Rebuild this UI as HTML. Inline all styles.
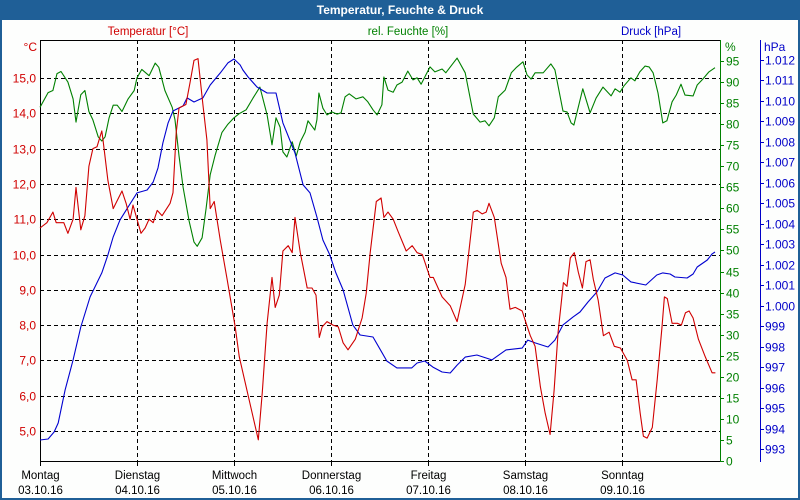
<!DOCTYPE html>
<html><head><meta charset="utf-8"><style>
html,body{margin:0;padding:0;background:#fff}
svg{display:block;font-family:"Liberation Sans",Tahoma,sans-serif}
</style></head><body>
<svg id="c" width="800" height="500" viewBox="0 0 800 500">
<rect x="0" y="0" width="800" height="500" fill="#1f5f97"/>
<rect x="2" y="20" width="796" height="478" fill="#fdfefd"/>
<text x="400" y="14" text-anchor="middle" fill="#fff" font-size="12" font-weight="bold">Temperatur, Feuchte &amp; Druck</text>
<text x="148" y="35" text-anchor="middle" fill="#d00000" font-size="11.5">Temperatur [°C]</text>
<text x="408" y="35" text-anchor="middle" fill="#008000" font-size="11.5">rel. Feuchte [%]</text>
<text x="651" y="35" text-anchor="middle" fill="#0000c8" font-size="11.5">Druck [hPa]</text>
<text x="37" y="51" text-anchor="end" fill="#d00000" font-size="12">°C</text>
<text x="725" y="51" fill="#008000" font-size="12">%</text>
<text x="764" y="51" fill="#0000c8" font-size="12">hPa</text>
<g id="grid"></g><g id="axes"></g><g id="series"></g>
</svg>
<script>
const tempHours=[0,1.7,3.2,4,5.9,6.9,8.2,8.9,10.1,11.1,12.1,13.1,14.1,15.3,15.6,16.8,18.1,20.3,21.3,22.3,23,25,26,27,28,29,30.2,32.2,32.9,33.7,34.4,36.1,37.1,38.1,39.1,40.3,41.3,42.1,43.1,44.6,46.3,48.3,49.3,54,55,56.2,57.4,58.2,59.2,60.1,61.4,62.4,63.1,64.4,65.1,66.1,67.3,68.3,69.1,69.8,71,72.5,73.8,75,76.2,78,79.7,80.7,81.7,83.2,84.4,85.1,86.1,87.4,88.6,90.6,92.1,93.3,94.6,96.5,97.3,99.5,101.5,103.2,105.2,107.2,108.2,109.4,110.4,111.1,112.4,114.1,115.3,116.3,117.6,119.3,120,121.3,122.5,123.8,125,126.2,127.2,128.2,129.5,130.4,131.2,132.2,133.2,134.2,135.1,136.1,136.9,138.1,139.4,140.8,142.1,143.6,145.3,146.5,147.5,148.5,149.3,150.2,151.5,152.7,153.9,154.5,155.2,156.4,157.7,158.7,159.7,160.6,161.6,162.9,164.6,166.3,167.1];
const tempValues=[10.75,10.9,11.2,10.9,10.9,10.6,11,11.9,10.7,11.1,12.5,13,13.05,13.5,13.25,12.1,11.3,11.8,11.45,11,11.4,10.6,10.75,11,10.9,11.25,11.1,11.45,11.75,13.45,14.15,14.25,14.85,15.5,15.55,14.25,13.25,11.3,11.5,10.4,9.3,7.95,7.1,4.75,6.1,8.05,9.35,8.5,8.85,10.1,10.25,10.05,11.05,10.05,9.65,9.05,9.05,8.85,7.65,7.95,8.1,8,7.95,7.5,7.3,7.6,8.2,8.9,10.05,11.5,11.6,11.05,11.2,11,10.65,10.1,10.25,10.05,10,9.35,9.35,8.8,8.55,8.1,9.15,11.2,11.25,11.15,11.2,11.45,11.05,9.75,9.35,8.45,8.5,8.4,8.15,7.7,7.4,6.25,5.5,4.9,6.15,7.8,9.2,9.1,9.9,10.05,9.5,9.05,9.8,9.85,9.3,8.7,7.7,7.8,7.4,7.35,7,6.45,6.45,5.5,4.85,4.8,5.1,6.45,7.95,8.8,8.75,8.05,8.05,8,8.35,8.4,8.2,7.6,7.1,6.65,6.65];
const humHours=[0,2,3.2,4.2,5.2,6.9,8.2,8.9,10.1,11.1,12.1,13.1,14.4,15.3,16.1,17.1,18.1,19.1,20.3,21.8,23.3,24,25.2,27,28.5,29.4,30.9,32.7,33.4,34.4,35.4,36.9,38.1,38.9,40.1,41.1,42.1,43.3,45,46.5,48,49.3,51,52.7,54.4,56.2,57.4,58.4,59.4,60.1,61.1,62.4,63.4,64.4,65.6,66.3,68,68.5,69,70,71,72.2,73.5,74.5,75.5,76.5,78.2,79.9,81.1,82.4,83.4,84.6,85.1,86.1,87.4,88.3,89.6,91,92.3,93.3,94.3,96.5,97.7,99.5,100.4,103.2,105.2,107.2,108.9,110.1,111.1,112.4,113.4,115.1,116.6,117.8,119.5,120.5,121.5,122.5,124.5,126.4,127.4,129.4,130.4,131.4,132.1,134.3,136.1,137.6,139.3,141.3,142.3,143.5,144.5,146.2,147.2,148.4,149.7,150.7,151.7,152.9,154.1,155.1,156.4,157.4,158.6,159.6,161.6,162.6,164,165.5,167];
const humValues=[84,87.5,88,92,92.5,90,86,80.5,87,88,83,81,77,76,77,81.5,84.5,84.5,83,86,88,91,93,91.5,94.5,93.5,88,84,81,72.5,65,57,52,51,53,60,68,72.5,78,80,81.5,82.5,83.4,86.2,88.8,82.2,75.1,81.5,79.3,73.4,72.2,75.8,72.4,75.8,78.1,80.8,78.6,81,87.4,83.8,82.2,82.9,82.4,82.7,86.5,87.2,86,86.5,85.3,83.4,82.2,84.6,91.2,88.1,87.6,89.3,90,92.6,90.5,91,89.5,93.6,92.4,93.1,92.2,95.7,92.2,82.4,80.5,80.8,79.6,81.5,86.5,88.1,92.2,93.4,94.8,91.7,90.7,92.2,92.2,94.3,92.9,83.1,82.9,80.3,79.8,88.4,82.7,86.2,88.8,86.7,88.4,87.6,89.1,91,90.3,92.4,93.8,93.6,92.2,87.4,80.3,80.8,85.3,86.9,89.5,86.9,86.7,89.3,90.7,92.4,93.4];
const pressHours=[0,2,3.5,4.5,6.2,8.2,10.1,12.4,15.3,16.8,18.1,19.8,21.8,24,26.5,28,29.2,30.4,31.7,32.9,35.4,36.4,38.1,40.3,42.1,44.6,46.5,48,49.5,50.2,51.5,53.7,56.2,58.4,60.1,63.1,65.1,66.8,68.5,70,71.7,73.2,75,77.4,79.2,82.4,85.8,88.3,92,93.3,95.2,97.2,99.5,101.5,103.2,105.2,108.1,111.8,115.3,119.3,120.7,122.5,125.7,127.4,129.4,131.9,133.6,135.6,137.8,139.8,142.3,144.2,146.2,149.9,152.6,154.1,155.9,157.1,160.1,161.6,162.6,165.1,166.3,167];
const pressValues=[993.44,993.49,993.83,994.27,995.88,997.35,998.96,1000.43,1001.6,1002.48,1003.36,1004.19,1004.82,1005.51,1005.65,1006.04,1006.73,1007.95,1008.93,1009.51,1009.76,1010.15,1009.95,1010.15,1010.78,1011.37,1011.86,1012.05,1011.76,1011.51,1011.17,1010.68,1010.39,1010.39,1008.93,1007.46,1005.9,1005.51,1004.33,1003.21,1002.48,1001.6,1000.77,999.06,998.57,998.47,997.3,996.96,996.96,997.2,997.3,997,996.76,996.71,997.1,997.49,997.59,997.35,997.84,997.93,998.32,998.18,997.98,998.32,999.06,999.45,999.69,1000.18,1000.67,1001.35,1001.6,1001.5,1001.16,1001.01,1001.5,1001.6,1001.55,1001.4,1001.35,1001.55,1001.89,1002.23,1002.53,1002.62];
const dayNames=["Montag","Dienstag","Mittwoch","Donnerstag","Freitag","Samstag","Sonntag"];
const dayDates=["03.10.16","04.10.16","05.10.16","06.10.16","07.10.16","08.10.16","09.10.16"];
const tempTicks=[5,6,7,8,9,10,11,12,13,14,15];
const humTicks=[0,5,10,15,20,25,30,35,40,45,50,55,60,65,70,75,80,85,90,95];
const pressTicks=[993,994,995,996,997,998,999,1000,1001,1002,1003,1004,1005,1006,1007,1008,1009,1010,1011,1012];

const NS="http://www.w3.org/2000/svg";
const X0=40,X1=719,YT=40,YB=461;
const xS=h=>X0+h*(X1-X0)/168;
const yT=t=>78+(15-t)*35.3;
const yH=v=>461-v*(400/95);
const yP=p=>449-(p-993)*(389/19);
function mk(tag,attrs,parent){const e=document.createElementNS(NS,tag);for(const k in attrs)e.setAttribute(k,attrs[k]);parent.appendChild(e);return e;}
const grid=document.getElementById('grid'),axes=document.getElementById('axes'),ser=document.getElementById('series');
const dash={stroke:"#000","stroke-width":1,"stroke-dasharray":"4,3",fill:"none"};
tempTicks.forEach(t=>{
 const y=Math.round(yT(t))+0.5;
 if(t<15||true){const l=mk('line',Object.assign({x1:X0,x2:720,y1:y,y2:y},dash),grid);
 
 }
 const tx=mk('text',{x:36,y:y+4,"text-anchor":"end",fill:"#d00000","font-size":12},axes);
 tx.textContent=t.toFixed(1).replace('.',',');
 
 
});
dayNames.forEach((d,i)=>{
 const x=Math.round(xS(i*24))+0.5;
 if(i>0){const l=mk('line',Object.assign({x1:x,x2:x,y1:YT,y2:YB},dash),grid);
 
 }
 const tk=mk('line',{x1:x,x2:x,y1:YB,y2:YB+5,stroke:"#000"},axes);
 
 
 const t1=mk('text',{x:x,y:479,"text-anchor":"middle",fill:"#000","font-size":11.5},axes);
 t1.textContent=d;
 
 
 const t2=mk('text',{x:x,y:494,"text-anchor":"middle",fill:"#000","font-size":11.5},axes);
 t2.textContent=dayDates[i];
 
 
});
humTicks.forEach(v=>{
 const y=Math.round(yH(v))+0.5;
 const tk=mk('line',{x1:720,x2:724,y1:y,y2:y,stroke:"#008000"},axes);
 
 
 const tx=mk('text',{x:726,y:y+4,fill:"#008000","font-size":12},axes);
 tx.textContent=v;
 
 
});
pressTicks.forEach(p=>{
 const y=Math.round(yP(p))+0.5;
 const tk=mk('line',{x1:760,x2:764,y1:y,y2:y,stroke:"#0000c8"},axes);
 
 
 const tx=mk('text',{x:765,y:y+4,fill:"#0000c8","font-size":12},axes);
 tx.textContent=p>=1000?("1."+String(p-1000).padStart(3,'0')):p;
 
 
});
let a=mk('line',{x1:40.5,x2:40.5,y1:YT,y2:YB+1,stroke:"#000"},axes);


a=mk('line',{x1:40,x2:720,y1:YT+0.5,y2:YT+0.5,stroke:"#000"},axes);


a=mk('line',{x1:40,x2:720,y1:YB+0.5,y2:YB+0.5,stroke:"#000"},axes);


a=mk('line',{x1:720.5,x2:720.5,y1:YT,y2:YB+1,stroke:"#008000"},axes);


a=mk('line',{x1:760.5,x2:760.5,y1:YT,y2:YB+1,stroke:"#0000c8"},axes);


function line(hs,vs,yf,color,name){
 const d=hs.map((h,i)=>(i?'L':'M')+xS(h).toFixed(1)+','+yf(vs[i]).toFixed(1)).join('');
 const p=mk('path',{d:d,stroke:color,"stroke-width":1.1,fill:"none","stroke-linejoin":"round"},ser);
 
 
}
line(humHours,humValues,yH,"#008000","humidity-line");
line(pressHours,pressValues,yP,"#0000d0","pressure-line");
line(tempHours,tempValues,yT,"#d00000","temperature-line");
</script>
</body></html>
